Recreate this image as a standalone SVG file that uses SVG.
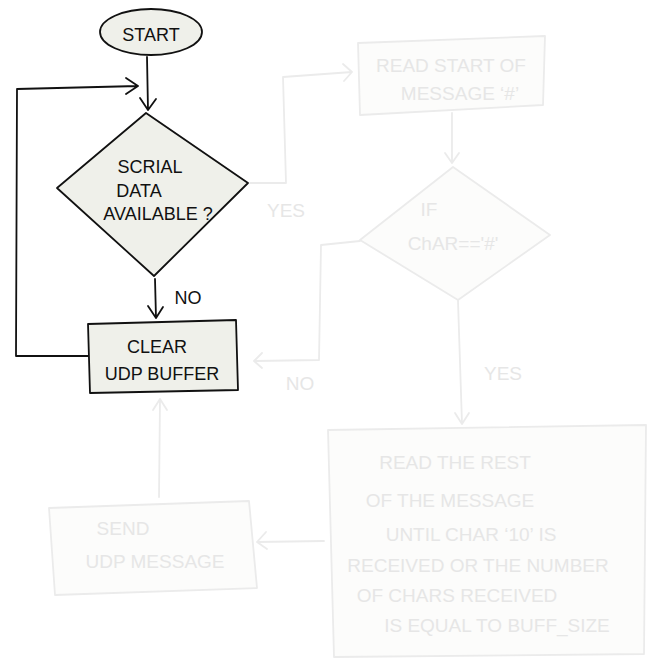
<svg xmlns="http://www.w3.org/2000/svg" width="660" height="669" viewBox="0 0 660 669">
<defs>
<style>
.a{fill:none;stroke:#111;stroke-width:1.8;stroke-linecap:round;stroke-linejoin:round}
.an{fill:#eff0ea;stroke:#111;stroke-width:1.8;stroke-linejoin:round}
.f{fill:none;stroke:#ebebeb;stroke-width:1.8;stroke-linecap:round;stroke-linejoin:round}
.fn{fill:#fcfcfb;stroke:#ebebeb;stroke-width:1.8;stroke-linejoin:round}
.t{font-family:"Liberation Sans",Arial,sans-serif;font-size:18px;fill:#111;text-anchor:middle}
.tf{font-family:"Liberation Sans",Arial,sans-serif;font-size:19px;fill:#e6e6e6;text-anchor:middle}
</style>
</defs>
<rect width="660" height="669" fill="#ffffff"/>
<g id="connectors">
<path class="a" d="M147 57 L148 110 M140 98 L148 110 L156 99"/>
<path class="a" d="M88 356 L16 356 L17 89 L138 86 M126 78 L138 86 L126 94"/>
<path class="a" d="M155 279 L156 318 M148 306 L156 318 L163 307"/>
<path class="f" d="M250 183 L286 183 L283 77 L352 72 M343 64 L352 72 L344 81"/>
<path class="f" d="M452 113 L452 163 M445 153 L452 163 L459 153"/>
<path class="f" d="M360 241 L321 245 L319 360 L255 361 M262 353 L254 361 L262 368"/>
<path class="f" d="M458 301 L462 424 M455 413 L462 424 L469 413"/>
<path class="f" d="M324 541 L257 542 M266 532 L257 542 L267 549"/>
<path class="f" d="M159 497 L160 399 M153 410 L160 399 L167 410"/>
</g>
<g id="start">
<ellipse class="an" cx="151" cy="32" rx="51" ry="23"/>
<text class="t" x="151" y="41" font-size="22">START</text>
</g>
<g id="serial">
<path class="an" d="M146 113 L248 183 L154 276 L57 188 Z"/>
<text class="t" x="150" y="173">SCRIAL</text>
<text class="t" x="139" y="197">DATA</text>
<text class="t" x="158" y="220">AVAILABLE ?</text>
</g>
<text class="t" x="188" y="304" font-size="16">NO</text>
<g id="clear">
<path class="an" d="M88 324 L236 320 L238 390 L90 393 Z"/>
<text class="t" x="157" y="353">CLEAR</text>
<text class="t" x="162" y="380">UDP BUFFER</text>
</g>
<g id="readstart">
<path class="fn" d="M358 43 L545 36 L543 105 L360 115 Z"/>
<text class="tf" x="451" y="72" font-size="20">READ START OF</text>
<text class="tf" x="460" y="100" font-size="21">MESSAGE ‘#’</text>
</g>
<text class="tf" x="286" y="217" font-size="22">YES</text>
<g id="ifchar">
<path class="fn" d="M453 167 L550 235 L458 300 L360 240 Z"/>
<text class="tf" x="429" y="216" font-size="21">IF</text>
<text class="tf" x="453" y="250" font-size="20">ChAR=='#'</text>
</g>
<text class="tf" x="300" y="390" font-size="22">NO</text>
<text class="tf" x="503" y="380" font-size="25">YES</text>
<g id="readrest">
<path class="fn" d="M328 430 L646 425 L644 654 L334 657 Z"/>
<text class="tf" x="455" y="469" font-size="21">READ THE REST</text>
<text class="tf" x="450" y="507">OF THE MESSAGE</text>
<text class="tf" x="471" y="541" font-size="20">UNTIL CHAR ‘10’ IS</text>
<text class="tf" x="478" y="572">RECEIVED OR THE NUMBER</text>
<text class="tf" x="457" y="602">OF CHARS RECEIVED</text>
<text class="tf" x="497" y="632" font-size="20">IS EQUAL TO BUFF_SIZE</text>
</g>
<g id="send">
<path class="fn" d="M49 508 L249 501 L257 588 L55 595 Z"/>
<text class="tf" x="123" y="535" font-size="25">SEND</text>
<text class="tf" x="155" y="568" font-size="24">UDP MESSAGE</text>
</g>
</svg>
